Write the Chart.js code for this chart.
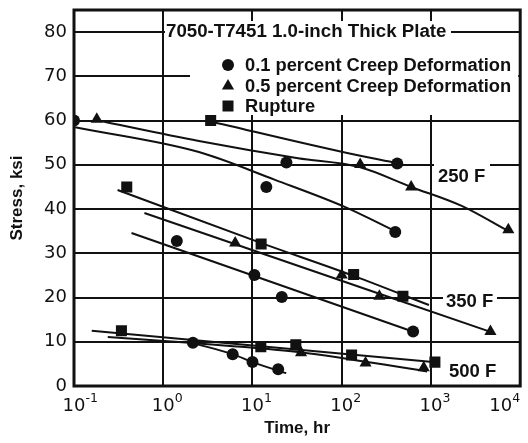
<!DOCTYPE html>
<html lang="en">
<head>
<meta charset="UTF-8">
<title>7050-T7451 creep</title>
<script src="https://cdn.jsdelivr.net/npm/chart.js"></script>
<style>
  body { margin: 0; background: #fff; }
  canvas { display: block; }
</style>
</head>
<body>
<canvas id="creepChart" width="528" height="443"></canvas>
<script>
// tick values
var xTicks = [0.1, 1, 10, 100, 1000, 10000];
var xTickExp = ['-1', '0', '1', '2', '3', '4'];
var yTicks = [0, 10, 20, 30, 40, 50, 60, 70, 80];

// test points (time hr, stress ksi)
var circ250T = [0.1, 24, 14.3, 419, 398];
var circ250S = [60, 50.5, 45, 50.3, 34.8];
var tri250T = [0.18, 161, 600, 7360];
var tri250S = [60.3, 50.1, 45, 35.3];
var sq250T = [3.4];
var sq250S = [60];

var circ350T = [1.42, 10.5, 21.3, 631];
var circ350S = [32.8, 25.1, 20.1, 12.3];
var tri350T = [6.4, 100, 264, 4640];
var tri350S = [32.3, 25.1, 20.3, 12.3];
var sq350T = [0.39, 12.5, 136, 485];
var sq350S = [45.0, 32.1, 25.2, 20.3];

var circ500T = [2.15, 6.0, 10, 19.4];
var circ500S = [9.8, 7.2, 5.4, 3.8];
var tri500T = [35, 185, 830];
var tri500S = [7.5, 5.2, 4.1];
var sq500T = [0.34, 12.4, 30.6, 129, 1107];
var sq500S = [12.5, 8.9, 9.3, 7.0, 5.4];

// faired curves
var rup250T = [3.4, 102.6, 419];
var rup250S = [59.8, 52.9, 50.4];
var half250T = [0.18, 2.51, 32.4, 158, 600, 2210, 7360];
var half250S = [60.1, 55.4, 51.5, 49.5, 45.0, 40.7, 35.0];
var tenth250T = [0.103, 2.51, 17.9, 108, 398];
var tenth250S = [58.5, 52.9, 46.6, 40.5, 35.0];

var rup350T = [0.308, 12.6, 136, 950];
var rup350S = [44.3, 32.3, 24.9, 18.3];
var half350T = [0.615, 5012];
var half350S = [39.1, 12.0];
var tenth350T = [0.441, 647];
var tenth350S = [34.6, 12.2];

var rup500T = [0.158, 1052];
var rup500S = [12.5, 5.4];
var half500T = [0.239, 2.15, 32.4, 903];
var half500S = [11.1, 9.7, 7.7, 3.3];
var tenth500T = [2.15, 6.0, 10, 23.9];
var tenth500S = [9.7, 7.2, 5.4, 2.9];

var legendLabels = ['0.1 percent Creep Deformation', '0.5 percent Creep Deformation', 'Rupture'];
var tempLabels = ['250 F', '350 F', '500 F'];

var ink = '#111';

function pts(t, s) {
  return t.map(function (v, i) { return { x: v, y: s[i] }; });
}
function curve(t, s) {
  return { data: pts(t, s), borderColor: ink, borderWidth: 2, pointRadius: 0,
    cubicInterpolationMode: 'monotone', fill: false };
}
function marks(t, s, style, r) {
  return { data: pts(t, s), showLine: false, pointStyle: style, pointRadius: r,
    backgroundColor: ink, borderColor: ink, borderWidth: 0 };
}

function drawMark(ctx, style, x, y) {
  ctx.fillStyle = ink;
  ctx.beginPath();
  if (style === 'circle') {
    ctx.arc(x, y, 6, 0, Math.PI * 2);
  } else if (style === 'triangle') {
    ctx.moveTo(x, y - 7);
    ctx.lineTo(x + 6.1, y + 3.5);
    ctx.lineTo(x - 6.1, y + 3.5);
    ctx.closePath();
  } else {
    ctx.rect(x - 5.5, y - 5.5, 11, 11);
  }
  ctx.fill();
}

function noPad(s) {
  s.paddingTop = 0; s.paddingBottom = 0; s.paddingLeft = 0; s.paddingRight = 0;
}

var decor = {
  id: 'decor',
  beforeDatasetsDraw: function (chart) {
    var ctx = chart.ctx, a = chart.chartArea;
    ctx.save();
    ctx.fillStyle = '#fff';
    // blank areas behind title, legend and temperature labels
    ctx.fillRect(165, 21, 286, 22);
    ctx.fillRect(190, 38, a.right - 190 - 2, 77);
    ctx.fillRect(434, 160, 56, 26);
    ctx.fillRect(443, 291, 54, 22);
    ctx.fillRect(446, 362, 56, 21);

    // frame
    ctx.strokeStyle = ink;
    ctx.lineWidth = 3;
    ctx.strokeRect(a.left, a.top, a.right - a.left, a.bottom - a.top);

    ctx.fillStyle = ink;
    ctx.textBaseline = 'middle';
    ctx.textAlign = 'left';
    ctx.font = 'bold 18.7px "Liberation Sans", Arial, sans-serif';
    ctx.fillText('7050-T7451 1.0-inch Thick Plate', 166, 32);

    ctx.font = 'bold 18.3px "Liberation Sans", Arial, sans-serif';
    var styles = ['circle', 'triangle', 'rect'];
    var rows = [65, 86, 106];
    for (var i = 0; i < 3; i++) {
      drawMark(ctx, styles[i], 228, rows[i]);
      ctx.fillText(legendLabels[i], 245, rows[i] + 1);
    }

    ctx.font = 'bold 18.5px "Liberation Sans", Arial, sans-serif';
    ctx.fillText(tempLabels[0], 438, 177);
    ctx.fillText(tempLabels[1], 446, 302);
    ctx.fillText(tempLabels[2], 449, 372);

    // x tick labels with exponents
    var xs = chart.scales.x;
    ctx.textBaseline = 'alphabetic';
    for (var k = 0; k < xTicks.length; k++) {
      var px = xs.getPixelForValue(xTicks[k]);
      ctx.font = '18px "DejaVu Sans", sans-serif';
      var w10 = ctx.measureText('10').width;
      ctx.font = '12.5px "DejaVu Sans", sans-serif';
      var wExp = ctx.measureText(xTickExp[k]).width;
      var cx = Math.min(px, a.right - wExp - w10 / 2);
      ctx.font = '18px "DejaVu Sans", sans-serif';
      ctx.fillText('10', cx - w10 / 2, 411);
      ctx.font = '12.5px "DejaVu Sans", sans-serif';
      ctx.fillText(xTickExp[k], cx + w10 / 2, 402);
    }
    ctx.restore();
  }
};

new Chart(document.getElementById('creepChart'), {
  type: 'line',
  data: {
    datasets: [
      curve(rup250T, rup250S), curve(half250T, half250S), curve(tenth250T, tenth250S),
      curve(rup350T, rup350S), curve(half350T, half350S), curve(tenth350T, tenth350S),
      curve(rup500T, rup500S), curve(half500T, half500S), curve(tenth500T, tenth500S),
      marks(circ250T, circ250S, 'circle', 6), marks(tri250T, tri250S, 'triangle', 7), marks(sq250T, sq250S, 'rect', 7.8),
      marks(circ350T, circ350S, 'circle', 6), marks(tri350T, tri350S, 'triangle', 7), marks(sq350T, sq350S, 'rect', 7.8),
      marks(circ500T, circ500S, 'circle', 6), marks(tri500T, tri500S, 'triangle', 7), marks(sq500T, sq500S, 'rect', 7.8)
    ]
  },
  options: {
    responsive: false,
    animation: false,
    layout: { padding: { left: 0, right: 4, top: 10, bottom: 0 } },
    plugins: { legend: { display: false }, tooltip: { enabled: false } },
    scales: {
      x: {
        type: 'logarithmic',
        min: 0.1,
        max: 10000,
        afterBuildTicks: function (s) { s.ticks = xTicks.map(function (v) { return { value: v }; }); },
        afterFit: function (s) { s.height = 57; noPad(s); },
        grid: { color: ink, lineWidth: 2, drawTicks: false },
        border: { display: false },
        ticks: { display: false },
        title: { display: true, text: 'Time, hr', color: ink,
          font: { family: '"Liberation Sans", Arial, sans-serif', size: 17, weight: 'bold' },
          padding: { top: 4, bottom: 4 } }
      },
      y: {
        min: 0,
        max: 85,
        afterBuildTicks: function (s) { s.ticks = yTicks.map(function (v) { return { value: v }; }); },
        afterFit: function (s) { s.width = 74; noPad(s); },
        grid: { color: ink, lineWidth: 2, drawTicks: false },
        border: { display: false },
        ticks: { color: ink, padding: 7, font: { family: '"DejaVu Sans", sans-serif', size: 18 } },
        title: { display: true, text: 'Stress, ksi', color: ink,
          font: { family: '"Liberation Sans", Arial, sans-serif', size: 17, weight: 'bold' },
          padding: { top: 7, bottom: 4 } }
      }
    }
  },
  plugins: [decor]
});
</script>
</body>
</html>
